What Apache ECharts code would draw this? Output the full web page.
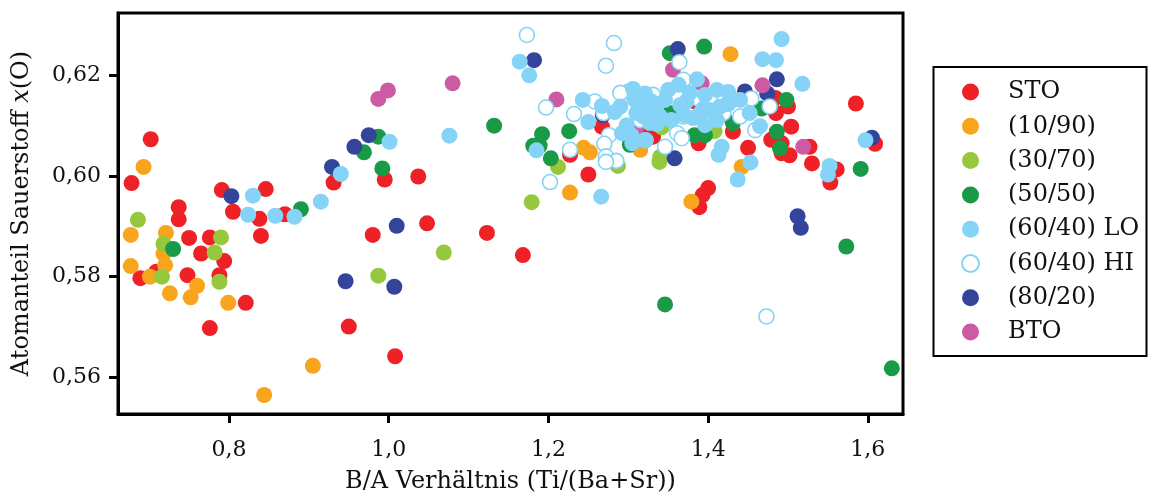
<!DOCTYPE html>
<html>
<head>
<meta charset="utf-8">
<script src="https://cdn.jsdelivr.net/npm/echarts@6/dist/echarts.min.js"></script>
<style>
  html, body { margin: 0; padding: 0; background: #ffffff; }
  #chart { width: 1149px; height: 494px; }
</style>
</head>
<body>
<div id="chart"></div>
<script>
// Axis ticks (B/A ratio and oxygen fraction)
const xTicks = [0.8, 1.0, 1.2, 1.4, 1.6];
const yTicks = [0.56, 0.58, 0.60, 0.62];

// Legend labels, in display order
const seriesNames = ['STO', '(10/90)', '(30/70)', '(50/50)', '(60/40) LO', '(60/40) HI', '(80/20)', 'BTO'];

// [B/A ratio, x(O)] per sample group
const sto = [
  [0.702, 0.6073], [0.678, 0.5986], [0.791, 0.5972], [0.846, 0.5974], [0.805, 0.5929],
  [0.838, 0.5915], [0.840, 0.5881], [0.737, 0.5938], [0.737, 0.5914], [0.750, 0.5877],
  [0.776, 0.5878], [0.765, 0.5846], [0.794, 0.5831], [0.709, 0.5810], [0.689, 0.5797],
  [0.748, 0.5803], [0.788, 0.5803], [0.821, 0.5748], [0.776, 0.5698], [0.870, 0.5924],
  [0.931, 0.5987], [0.995, 0.5993], [1.037, 0.5999], [0.980, 0.5883], [1.048, 0.5906],
  [0.950, 0.5701], [1.008, 0.5642], [1.123, 0.5887], [1.168, 0.5843], [1.227, 0.6042],
  [1.250, 0.6003], [1.267, 0.6098], [1.321, 0.6089], [1.331, 0.6078], [1.383, 0.6148],
  [1.388, 0.6065], [1.431, 0.6088], [1.450, 0.6056], [1.484, 0.6155], [1.500, 0.6138],
  [1.485, 0.6125], [1.504, 0.6098], [1.479, 0.6072], [1.492, 0.6065], [1.492, 0.6045],
  [1.502, 0.6041], [1.527, 0.6058], [1.530, 0.6025], [1.585, 0.6144], [1.609, 0.6064],
  [1.561, 0.6013], [1.553, 0.5987], [1.400, 0.5976], [1.393, 0.5962], [1.389, 0.5938]
];
const ba10sr90 = [
  [0.693, 0.6018], [0.677, 0.5883], [0.721, 0.5887], [0.718, 0.5846], [0.720, 0.5823],
  [0.677, 0.5821], [0.701, 0.5800], [0.760, 0.5782], [0.726, 0.5767], [0.752, 0.5759],
  [0.799, 0.5748], [0.905, 0.5623], [0.844, 0.5565], [1.244, 0.6056], [1.252, 0.6047],
  [1.227, 0.5967], [1.315, 0.6052], [1.379, 0.5949], [1.418, 0.6121], [1.428, 0.6242],
  [1.442, 0.6018]
];
const ba30sr70 = [
  [0.686, 0.5913], [0.718, 0.5865], [0.716, 0.5800], [0.790, 0.5878], [0.782, 0.5848],
  [0.788, 0.5790], [0.987, 0.5802], [1.069, 0.5848], [1.179, 0.5948], [1.212, 0.6018],
  [1.287, 0.6020], [1.340, 0.6038], [1.339, 0.6028], [1.342, 0.6097], [1.408, 0.6089]
];
const ba50sr50 = [
  [0.730, 0.5855], [0.890, 0.5934], [0.969, 0.6047], [0.987, 0.6078], [0.992, 0.6015],
  [1.132, 0.6100], [1.192, 0.6083], [1.181, 0.6060], [1.189, 0.6060], [1.226, 0.6089],
  [1.203, 0.6035], [1.302, 0.6062], [1.346, 0.5745], [1.352, 0.6244], [1.395, 0.6257],
  [1.352, 0.6125], [1.383, 0.6081], [1.396, 0.6081], [1.431, 0.6105], [1.467, 0.6134],
  [1.498, 0.6151], [1.486, 0.6088], [1.490, 0.6055], [1.591, 0.6014], [1.573, 0.5860],
  [1.630, 0.5618]
];
const ba60sr40Lo = [
  [0.830, 0.5961], [0.824, 0.5923], [0.858, 0.5921], [0.882, 0.5919], [0.915, 0.5949],
  [0.940, 0.6004], [1.001, 0.6068], [1.076, 0.6080], [1.164, 0.6227], [1.176, 0.6200],
  [1.185, 0.6051], [1.243, 0.6151], [1.267, 0.6139], [1.250, 0.6107], [1.266, 0.5959],
  [1.290, 0.6138], [1.306, 0.6173], [1.319, 0.6161], [1.298, 0.6101], [1.304, 0.6081],
  [1.292, 0.6085], [1.305, 0.6065], [1.321, 0.6164], [1.329, 0.6148], [1.323, 0.6134],
  [1.346, 0.6151], [1.350, 0.6171], [1.363, 0.6181], [1.386, 0.6192], [1.396, 0.6161],
  [1.411, 0.6171], [1.425, 0.6167], [1.373, 0.6148], [1.394, 0.6134], [1.402, 0.6131],
  [1.415, 0.6138], [1.381, 0.6115], [1.390, 0.6125], [1.411, 0.6111], [1.354, 0.6111],
  [1.340, 0.6118], [1.327, 0.6105], [1.319, 0.6118], [1.452, 0.6125], [1.465, 0.6099],
  [1.417, 0.6058], [1.413, 0.6042], [1.453, 0.6027], [1.437, 0.5993], [1.468, 0.6232],
  [1.485, 0.6230], [1.492, 0.6272], [1.518, 0.6183], [1.597, 0.6071], [1.552, 0.6020],
  [1.550, 0.6003], [1.335, 0.6131], [1.310, 0.6125], [1.365, 0.6141], [1.377, 0.6165],
  [1.440, 0.6151], [1.283, 0.6127], [1.308, 0.6151], [1.336, 0.6103], [1.370, 0.6121],
  [1.425, 0.6143], [1.396, 0.6101], [1.322, 0.6071]
];
const ba60sr40Hi = [
  [1.173, 0.6280], [1.282, 0.6264], [1.272, 0.6219], [1.197, 0.6136], [1.258, 0.6148],
  [1.232, 0.6123], [1.269, 0.6125], [1.276, 0.6081], [1.227, 0.6052], [1.270, 0.6064],
  [1.272, 0.6039], [1.285, 0.6030], [1.272, 0.6028], [1.202, 0.5988], [1.300, 0.6167],
  [1.331, 0.6161], [1.369, 0.6191], [1.364, 0.6226], [1.369, 0.6118], [1.361, 0.6085],
  [1.367, 0.6075], [1.346, 0.6058], [1.427, 0.6148], [1.419, 0.6125], [1.440, 0.6118],
  [1.454, 0.6154], [1.459, 0.6091], [1.477, 0.6138], [1.473, 0.5721], [1.290, 0.6165],
  [1.315, 0.6111], [1.390, 0.6151], [1.321, 0.6071], [1.402, 0.6157]
];
const ba80sr20 = [
  [0.803, 0.5960], [0.929, 0.6018], [0.957, 0.6058], [0.975, 0.6081], [0.946, 0.5791],
  [1.010, 0.5901], [1.007, 0.5780], [1.182, 0.6230], [1.268, 0.6121], [1.362, 0.6252],
  [1.358, 0.6035], [1.446, 0.6168], [1.474, 0.6164], [1.486, 0.6192], [1.605, 0.6076],
  [1.512, 0.5920], [1.516, 0.5897]
];
const bto = [
  [0.987, 0.6153], [0.999, 0.6170], [1.080, 0.6184], [1.210, 0.6152], [1.356, 0.6211],
  [1.392, 0.6184], [1.468, 0.6180], [1.519, 0.6058], [1.310, 0.6095]
];

const groupData = [sto, ba10sr90, ba30sr70, ba50sr50, ba60sr40Lo, ba60sr40Hi, ba80sr20, bto];
const groupColors = ['#ee2226', '#f8a51d', '#95c83c', '#189a47', '#85d3f6', '#85d3f6', '#33459b', '#cd5ba4'];
// stacking: hollow rings sit under the filled (60/40) LO markers
const groupZ = [2, 2, 2, 2, 6, 5, 3, 3];

const FONT = 'DejaVu Serif';
const TEXT = '#111111';
const comma = (v, d) => v.toFixed(d).replace('.', ',');

const series = seriesNames.map((name, i) => {
  const hollow = name === '(60/40) HI';
  return {
    name: name,
    type: 'scatter',
    data: groupData[i],
    z: groupZ[i],
    symbol: 'circle',
    symbolSize: hollow ? 15 : 16,
    itemStyle: hollow
      ? { color: '#ffffff', borderColor: groupColors[i], borderWidth: 1.6, opacity: 1 }
      : { color: groupColors[i], opacity: 1 },
    emphasis: { disabled: true }
  };
});

const chart = echarts.init(document.getElementById('chart'), null, { renderer: 'canvas' });
chart.setOption({
  animation: false,
  backgroundColor: '#ffffff',
  grid: {
    left: 118, top: 13, width: 785, height: 401,
    containLabel: false,
    outerBoundsMode: 'none',
    show: true, borderColor: '#000000', borderWidth: 3, backgroundColor: 'transparent', z: 10
  },
  xAxis: {
    type: 'value',
    min: 0.661, max: 1.644,
    name: 'B/A Verhältnis (Ti/(Ba+Sr))',
    nameLocation: 'middle',
    nameGap: 56,
    nameTextStyle: { fontFamily: FONT, fontSize: 24, color: TEXT },
    splitLine: { show: false },
    axisLine: { show: true, lineStyle: { color: '#000', width: 3 } },
    axisTick: { show: true, length: 9, lineStyle: { color: '#000', width: 3 }, customValues: xTicks },
    axisLabel: {
      customValues: xTicks, margin: 25,
      fontFamily: FONT, fontSize: 22, color: TEXT,
      formatter: v => comma(v, 1)
    }
  },
  yAxis: {
    type: 'value',
    min: 0.55273, max: 0.63237,
    name: 'Atomanteil Sauerstoff {i|x}(O)',
    nameLocation: 'middle',
    nameGap: 84,
    nameTextStyle: {
      fontFamily: FONT, fontSize: 24, color: TEXT,
      rich: { i: { fontFamily: FONT, fontSize: 24, fontStyle: 'italic', color: TEXT } }
    },
    splitLine: { show: false },
    axisLine: { show: true, lineStyle: { color: '#000', width: 3 } },
    axisTick: { show: true, length: 9, lineStyle: { color: '#000', width: 3 }, customValues: yTicks },
    axisLabel: {
      customValues: yTicks, margin: 17,
      fontFamily: FONT, fontSize: 22, color: TEXT,
      formatter: v => comma(v, 2)
    }
  },
  legend: {
    data: seriesNames,
    orient: 'vertical',
    left: 961,
    top: 80,
    padding: 0,
    itemWidth: 65,
    itemHeight: 17,
    itemGap: 10.3,
    selectedMode: false,
    textStyle: { fontFamily: FONT, fontSize: 24, color: TEXT, lineHeight: 24, padding: [0, 0, 0, 0] }
  },
  graphic: [{
    type: 'rect',
    shape: { x: 933.5, y: 67, width: 213, height: 289 },
    style: { fill: 'transparent', stroke: '#000000', lineWidth: 2 },
    silent: true
  }],
  series: series
});
</script>
</body>
</html>
